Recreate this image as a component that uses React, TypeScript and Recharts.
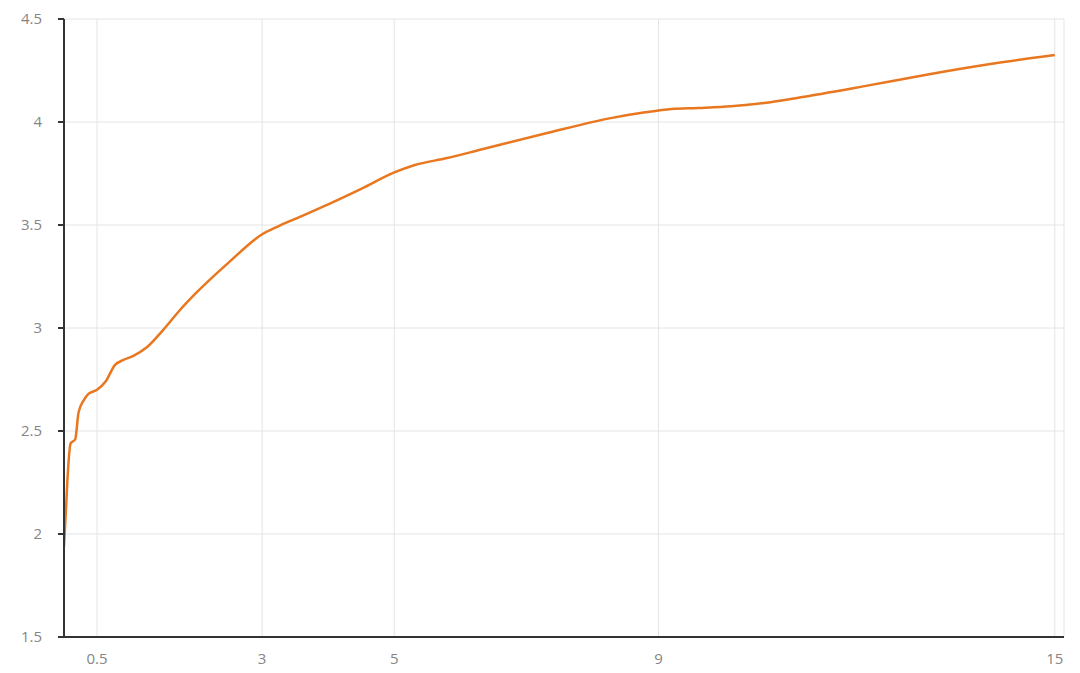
import { LineChart, Line, XAxis, YAxis, CartesianGrid } from 'recharts';

const xValues = [0, 0.03, 0.05, 0.1, 0.17, 0.22, 0.3, 0.37, 0.5, 0.63, 0.77, 0.9, 1.05, 1.25, 1.5, 1.75, 2, 2.5, 3, 3.25, 3.5, 4, 4.5, 5, 5.3, 5.8, 6.3, 7.3, 8.3, 8.8, 9.2, 9.6, 10.1, 10.6, 11.1, 12.1, 13.1, 14.1, 15];
const yValues = [1.94, 2.12, 2.25, 2.44, 2.46, 2.59, 2.65, 2.68, 2.7, 2.74, 2.82, 2.845, 2.865, 2.905, 2.99, 3.085, 3.17, 3.32, 3.455, 3.495, 3.53, 3.6, 3.675, 3.755, 3.79, 3.825, 3.865, 3.945, 4.02, 4.047, 4.063, 4.068, 4.076, 4.092, 4.117, 4.173, 4.232, 4.285, 4.325];
const xTicks = [0.5, 3, 5, 9, 15];
const yTicks = [1.5, 2, 2.5, 3, 3.5, 4, 4.5];

const data = xValues.map((x, i) => ({ x, y: yValues[i] }));

const tickStyle = { fill: '#858585', fontSize: 15, fontFamily: '"Open Sans", sans-serif' };

export default function App() {
  return (
    <div style={{ position: 'absolute', left: 0, top: 0, width: 1080, height: 673, background: '#fff' }}>
      <LineChart width={1080} height={673} data={data} margin={{ top: 19, right: 16, left: 0, bottom: 0 }}>
        <CartesianGrid stroke="#e4e4e4" strokeWidth={1} />
        <XAxis
          dataKey="x"
          type="number"
          domain={[0, 15.14]}
          ticks={xTicks}
          height={36}
          tickLine={false}
          tickSize={6}
          tickMargin={10}
          axisLine={{ stroke: '#333', strokeWidth: 2 }}
          tick={tickStyle}
          allowDataOverflow
        />
        <YAxis
          type="number"
          domain={[1.5, 4.5]}
          ticks={yTicks}
          width={64}
          tickSize={6}
          tickMargin={16}
          axisLine={{ stroke: '#333', strokeWidth: 2 }}
          tickLine={{ stroke: '#333', strokeWidth: 2 }}
          tick={tickStyle}
        />
        <Line type="monotone" dataKey="y" stroke="#e8771f" strokeWidth={2.5} dot={false} isAnimationActive={false} />
      </LineChart>
    </div>
  );
}
